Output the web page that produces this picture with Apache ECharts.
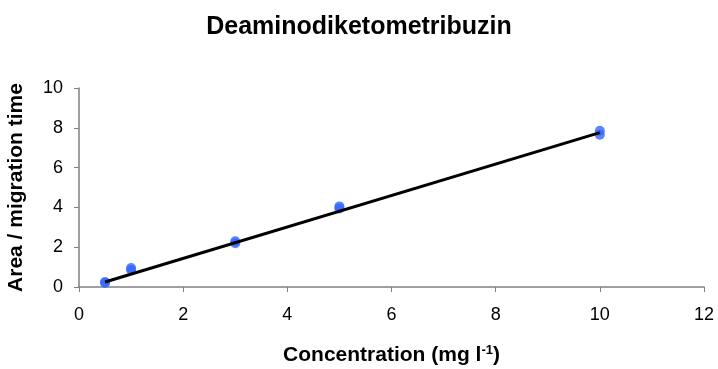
<!DOCTYPE html>
<html>
<head>
<meta charset="utf-8">
<script src="https://cdn.jsdelivr.net/npm/echarts@6/dist/echarts.min.js"></script>
<style>
html,body{margin:0;padding:0;background:#fff;}
#chart{width:718px;height:369px;}
</style>
</head>
<body>
<div id="chart"></div>
<script>
// Calibration measurements (two replicates per concentration)
const concentrations = [0.5, 0.5, 1, 1, 3, 3, 5, 5, 10, 10];
const responses = [0.2, 0.25, 0.85, 0.95, 2.2, 2.3, 3.95, 4.05, 7.65, 7.85];
// Calibration line end points
const fitX = [0.5, 10];
const fitY = [0.25, 7.76];
const xTicks = [0, 2, 4, 6, 8, 10, 12];
const yTicks = [0, 2, 4, 6, 8, 10];

const chart = echarts.init(document.getElementById('chart'));
const font = 'Liberation Sans, Arial, sans-serif';
chart.setOption({
  animation: false,
  title: {
    text: 'Deaminodiketometribuzin',
    left: 'center',
    top: 10,
    textStyle: {fontFamily: font, fontSize: 25, fontWeight: 'bold', color: '#000'}
  },
  grid: {left: 79, right: 14, top: 88, bottom: 82, outerBoundsMode: 'none'},
  xAxis: {
    type: 'value',
    min: xTicks[0], max: xTicks[xTicks.length - 1], interval: 2,
    name: '{n|Concentration (mg l}{s|-1}{n|)}',
    nameLocation: 'middle',
    nameGap: 57,
    nameTextStyle: {
      rich: {
        n: {fontFamily: font, fontSize: 21, fontWeight: 'bold', color: '#000'},
        s: {fontFamily: font, fontSize: 13, fontWeight: 'bold', color: '#000', verticalAlign: 'top', padding: [0, 0, 10, 0]}
      }
    },
    axisLine: {lineStyle: {color: '#808080', width: 1.5}},
    axisTick: {show: true, length: 5, inside: false, lineStyle: {color: '#808080'}},
    axisLabel: {fontFamily: font, fontSize: 18, color: '#000', margin: 19},
    splitLine: {show: false}
  },
  yAxis: {
    type: 'value',
    min: yTicks[0], max: yTicks[yTicks.length - 1], interval: 2,
    name: 'Area / migration time',
    nameLocation: 'middle',
    nameGap: 52,
    nameTextStyle: {fontFamily: font, fontSize: 21, fontWeight: 'bold', color: '#000'},
    axisLine: {show: true, lineStyle: {color: '#808080', width: 1.5}},
    axisTick: {show: true, length: 5, lineStyle: {color: '#808080'}},
    axisLabel: {fontFamily: font, fontSize: 18, color: '#000', margin: 16},
    splitLine: {show: false}
  },
  series: [
    {
      type: 'scatter',
      data: concentrations.map((c, i) => [c, responses[i]]),
      symbol: 'circle',
      symbolSize: 10,
      itemStyle: {color: '#3366FF'},
      z: 2
    },
    {
      type: 'line',
      data: fitX.map((x, i) => [x, fitY[i]]),
      symbol: 'none',
      lineStyle: {color: '#000', width: 3},
      z: 3
    }
  ]
});
</script>
</body>
</html>
